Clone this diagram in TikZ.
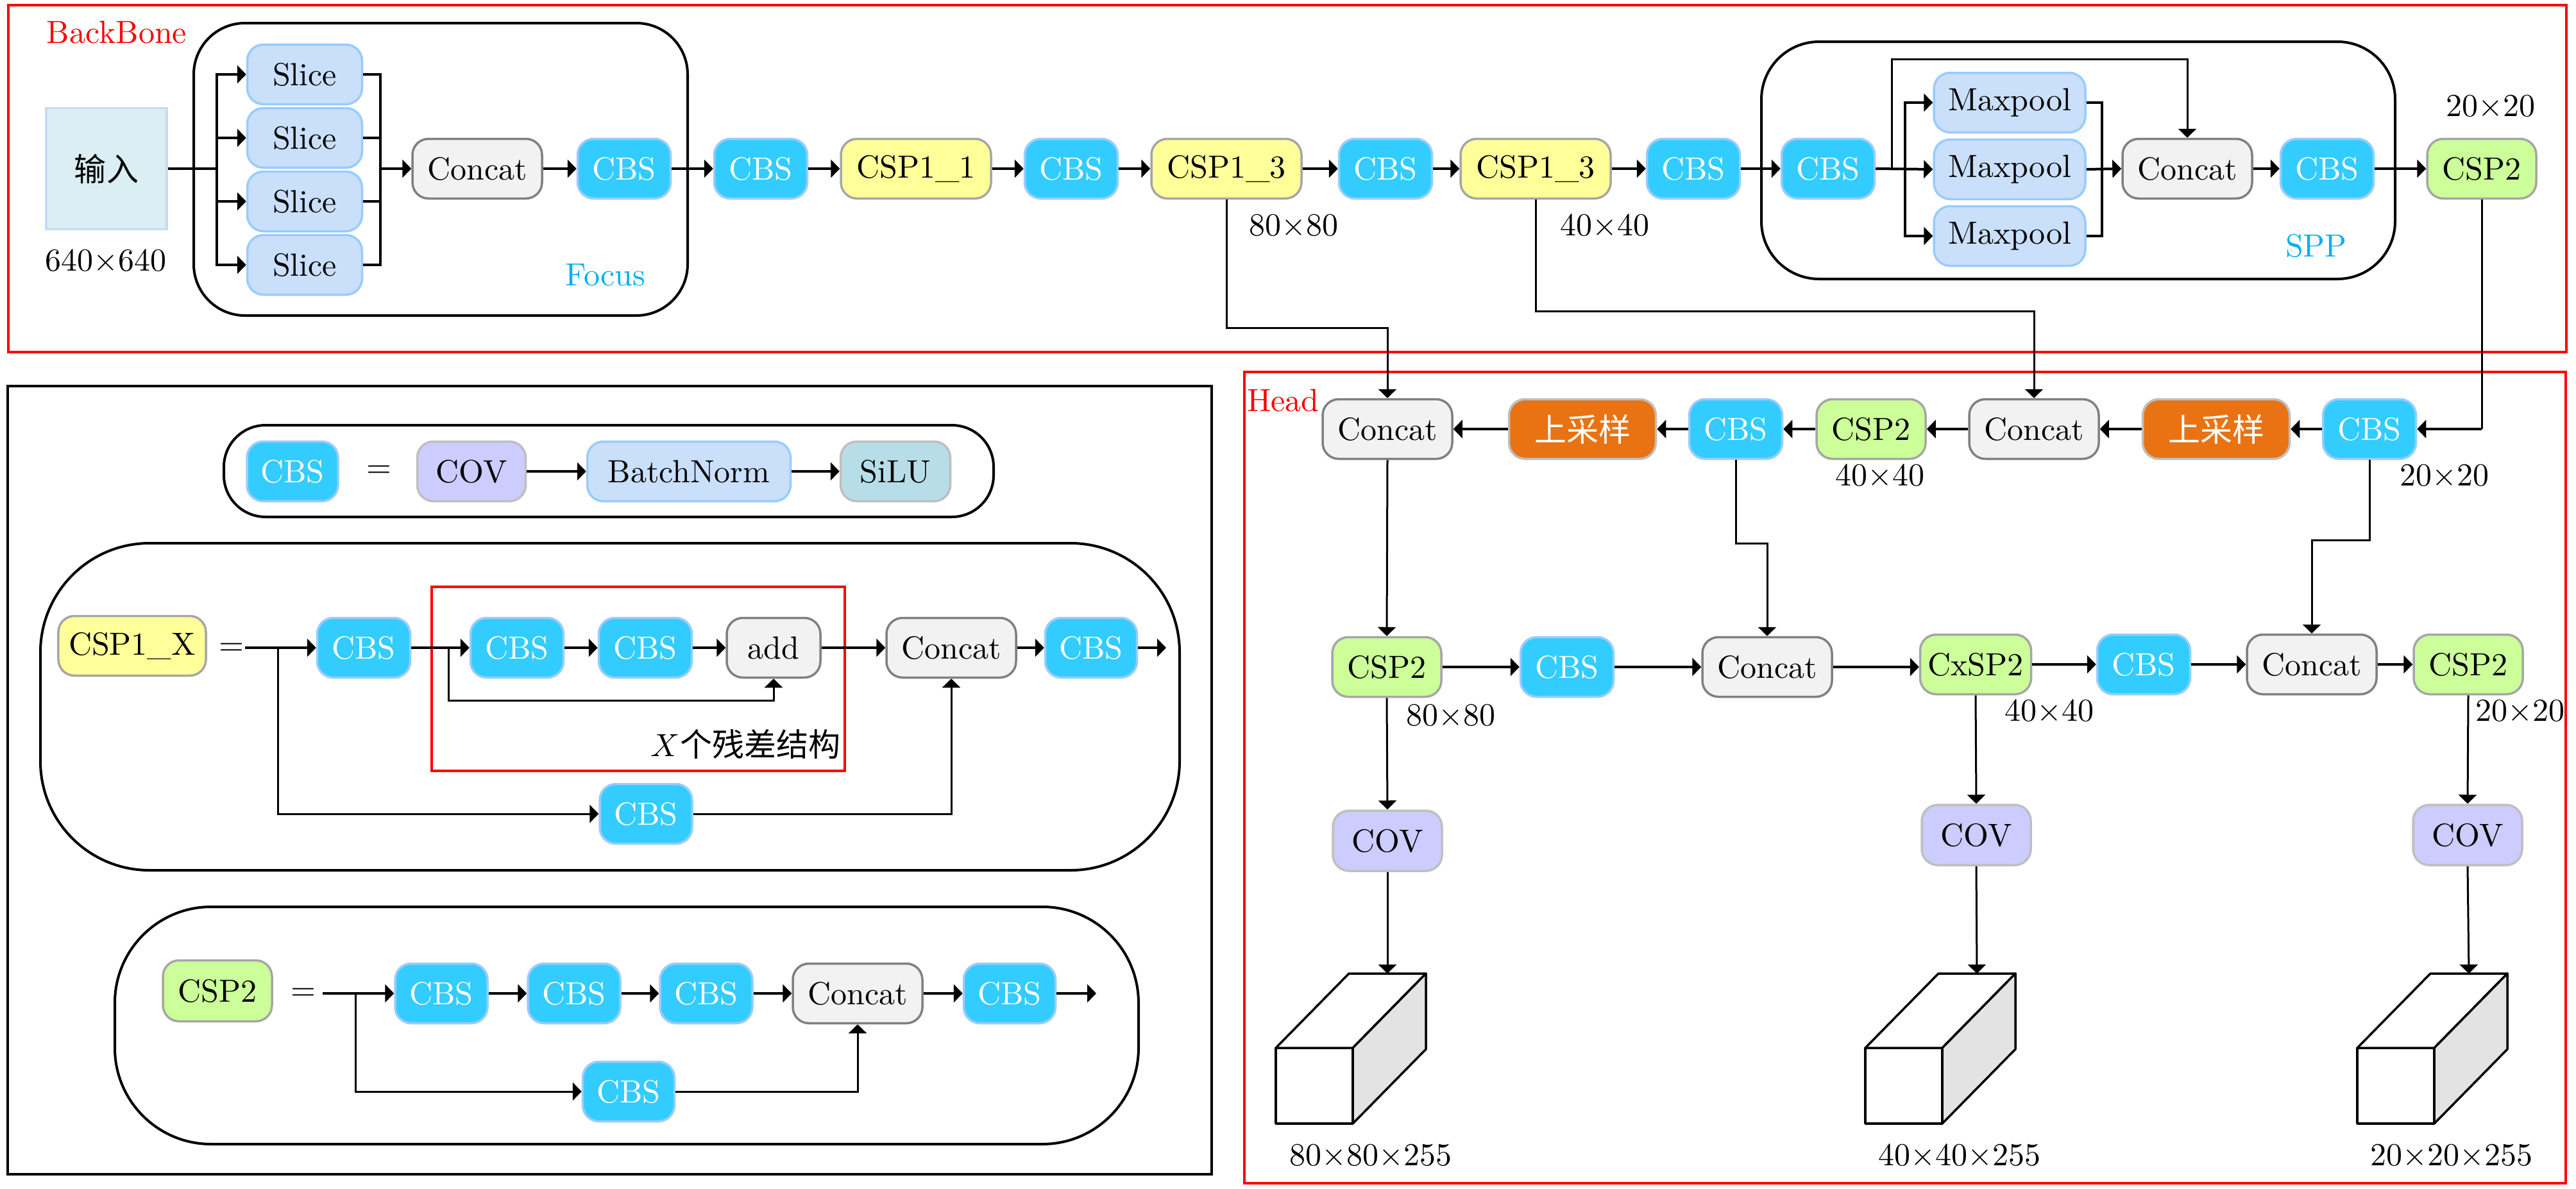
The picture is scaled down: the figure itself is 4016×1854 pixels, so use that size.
\documentclass[tikz,border=0pt]{standalone}
\usepackage{fontspec}
\newfontfamily\cjk{Noto Sans CJK SC}
\usetikzlibrary{arrows.meta,calc}
\definecolor{cbsfill}{HTML}{33CCFF}
\definecolor{cbsdraw}{HTML}{99CCFF}
\definecolor{slfill}{HTML}{C9DFFA}
\definecolor{sldraw}{HTML}{99CCFF}
\definecolor{catfill}{HTML}{F2F2F2}
\definecolor{catdraw}{HTML}{808080}
\definecolor{cspfill}{HTML}{FFFF99}
\definecolor{cspdraw}{HTML}{A6A6A6}
\definecolor{csptfill}{HTML}{CCFF99}
\definecolor{upfill}{HTML}{E97312}
\definecolor{updraw}{HTML}{BFBFBF}
\definecolor{covfill}{HTML}{CCCCFF}
\definecolor{covdraw}{HTML}{BFBFBF}
\definecolor{silufill}{HTML}{B7DEE8}
\definecolor{infill}{HTML}{DAEEF3}
\definecolor{indraw}{HTML}{C6DCF5}
\definecolor{focuscol}{HTML}{00B0F0}
\definecolor{cubeside}{HTML}{E3E3E3}
\begin{document}
\begin{tikzpicture}[x=0.2pt,y=-0.2pt,
  blk/.style={rounded corners=5pt, minimum height=18.6pt, line width=0.7pt, inner xsep=2pt, inner ysep=2pt},
  cbs/.style={blk, fill=cbsfill, draw=cbsdraw, text=white, minimum width=29pt},
  concat/.style={blk, fill=catfill, draw=catdraw, minimum width=40.4pt},
  slice/.style={blk, fill=slfill, draw=sldraw, minimum width=35.8pt},
  cspone/.style={blk, fill=cspfill, draw=cspdraw, minimum width=46.8pt},
  csptwo/.style={blk, fill=csptfill, draw=cspdraw, minimum width=34pt},
  maxp/.style={slice, minimum width=47.2pt},
  upsam/.style={blk, fill=upfill, draw=updraw, text=white, minimum width=45.8pt, font=\cjk},
  cov/.style={blk, fill=covfill, draw=covdraw, minimum width=34pt},
  bnorm/.style={slice, minimum width=63.4pt},
  silu/.style={blk, fill=silufill, draw=covdraw, minimum width=34.2pt},
  addn/.style={concat, minimum width=29.2pt},
  lbl/.style={inner sep=0pt},
  arr/.style={thick, -{Triangle[length=2.8pt,width=5.6pt]}},
  conn/.style={semithick, -{Triangle[length=2.8pt,width=5.6pt]}},
  ln/.style={thick},
  cube/.style={line width=0.7pt, line join=round},
  redframe/.style={red, thick},
  pill/.style={thick}
]
\useasboundingbox (0,0) rectangle (4016,1854);

% ---------------- frames ----------------
\draw[redframe] (13,8) rectangle (4001,549);
\draw[thick] (12,602) rectangle (1889,1831);
\draw[redframe] (1940,580) rectangle (4000,1845);
\node[lbl, text=red] (tbb) at (182,50) {BackBone};
\node[lbl, text=red, anchor=west] (thead) at (1943,624) {Head};

% ---------------- backbone ----------------
\draw[pill, rounded corners=16pt] (302,36) rectangle (1072,492);
\draw[pill, rounded corners=18pt] (2746,65) rectangle (3734,435);
\node[lbl, text=focuscol] (tfocus) at (944,429) {Focus};
\node[lbl, text=focuscol] (tspp) at (3611,383) {SPP};

\node[draw=indraw, fill=infill, line width=0.7pt, minimum width=37.6pt, minimum height=37.8pt, font=\cjk] (in) at (166,263) {输入};
\node[lbl] (t640) at (165,408) {640$\times$640};

\node[slice] (sl1) at (475,116) {Slice};
\node[slice] (sl2) at (475,215) {Slice};
\node[slice] (sl3) at (475,314) {Slice};
\node[slice] (sl4) at (475,413) {Slice};
\node[concat] (cat0) at (744,263) {Concat};
\node[cbs] (cbs0) at (973,263) {CBS};
\node[cbs] (cbs1) at (1186,263) {CBS};
\node[cspone] (csp11) at (1428,263) {CSP1\_1};
\node[cbs] (cbs2) at (1670,263) {CBS};
\node[cspone] (csp13a) at (1912,263) {CSP1\_3};
\node[cbs] (cbs3) at (2160,263) {CBS};
\node[cspone] (csp13b) at (2394,263) {CSP1\_3};
\node[cbs] (cbs4) at (2640,263) {CBS};
\node[cbs] (cbs5) at (2850,263) {CBS};
\node[maxp] (mp1) at (3133,160) {Maxpool};
\node[maxp] (mp2) at (3133,264) {Maxpool};
\node[maxp] (mp3) at (3133,368) {Maxpool};
\node[concat] (cat1) at (3410,263) {Concat};
\node[cbs] (cbs6) at (3628,263) {CBS};
\node[csptwo] (csp2a) at (3869,263) {CSP2};
\node[lbl] (t80a) at (2017,353) {80$\times$80};
\node[lbl] (t40a) at (2502,353) {40$\times$40};
\node[lbl] (t20a) at (3883,167) {20$\times$20};

\coordinate (fb) at (338,263);
\coordinate (fr) at (593,263);
\draw[ln] (in.east) -- (fb);
\foreach \s in {sl1,sl2,sl3,sl4} {\draw[arr] (fb) |- (\s.west);}
\draw[ln] (sl1.east) -| (fr |- sl4.east) -- (sl4.east);
\draw[ln] (sl2.east) -- (fr |- sl2.east);
\draw[ln] (sl3.east) -- (fr |- sl3.east);
\draw[arr] (fr) -- (cat0.west);
\draw[arr] (cat0) -- (cbs0);
\draw[arr] (cbs0) -- (cbs1);
\draw[arr] (cbs1) -- (csp11);
\draw[arr] (csp11) -- (cbs2);
\draw[arr] (cbs2) -- (csp13a);
\draw[arr] (csp13a) -- (cbs3);
\draw[arr] (cbs3) -- (csp13b);
\draw[arr] (csp13b) -- (cbs4);
\draw[arr] (cbs4) -- (cbs5);
\coordinate (sb) at (2970,263);
\coordinate (sr) at (3277,263);
\draw[arr] (cbs5.east) -- (mp2.west);
\draw[arr] (sb) |- (mp1.west);
\draw[arr] (sb) |- (mp3.west);
\draw[conn] (cbs5.east) -- ++(25,0) -- ++(0,-171) -| (cat1.north);
\draw[ln] (mp1.east) -| (sr |- mp3.east) -- (mp3.east);
\draw[arr] (mp2.east) -- (cat1.west);
\draw[arr] (cat1) -- (cbs6);
\draw[arr] (cbs6) -- (csp2a);

% ---------------- head ----------------
\node[concat] (hcat1) at (2163,669) {Concat};
\node[upsam] (hup1) at (2467,669) {上采样};
\node[cbs] (hcbs1) at (2706,669) {CBS};
\node[csptwo] (hcsp1) at (2917,669) {CSP2};
\node[concat] (hcat2) at (3171,669) {Concat};
\node[upsam] (hup2) at (3455,669) {上采样};
\node[cbs] (hcbs2) at (3694,669) {CBS};
\node[lbl] (t40b) at (2931,743) {40$\times$40};
\node[lbl] (t20b) at (3811,743) {20$\times$20};

\node[csptwo] (hcsp2) at (2162,1040) {CSP2};
\node[cbs] (hcbs3) at (2443,1040) {CBS};
\node[concat] (hcat3) at (2755,1040) {Concat};
\node[csptwo, minimum width=34.6pt] (hcx) at (3080,1036) {CxSP2};
\node[cbs] (hcbs4) at (3342,1036) {CBS};
\node[concat] (hcat4) at (3604,1036) {Concat};
\node[csptwo] (hcsp3) at (3848,1036) {CSP2};
\node[lbl] (t80c) at (2262,1117) {80$\times$80};
\node[lbl] (t40c) at (3195,1110) {40$\times$40};
\node[lbl] (t20c) at (3929,1110) {20$\times$20};

\node[cov, minimum height=18.8pt] (hcov1) at (2163,1311) {COV};
\node[cov, minimum height=18.8pt] (hcov2) at (3081,1302) {COV};
\node[cov, minimum height=18.8pt] (hcov3) at (3847,1302) {COV};

\foreach \x/\n in {1989/1,2908/2,3675/3} {
  \draw[cube, fill=white] (\x,1634) rectangle ++(120,118);
  \draw[cube, fill=white] (\x,1634) -- ++(114,-116) -- ++(120,0) -- ++(-114,116) -- cycle;
  \draw[cube, fill=cubeside] (\x+120,1634) -- ++(114,-116) -- ++(0,118) -- ++(-114,116) -- cycle;
  \coordinate (cub\n) at (\x+174,1518);
}
\node[lbl] (t80d) at (2137,1803) {80$\times$80$\times$255};
\node[lbl] (t40d) at (3055,1803) {40$\times$40$\times$255};
\node[lbl] (t20d) at (3822,1803) {20$\times$20$\times$255};

% backbone -> head
\draw[conn] (csp13a.south) -- ++(0,200) -| (hcat1.north);
\draw[conn] (csp13b.south) -- ++(0,174) -| (hcat2.north);
\draw[semithick] (csp2a.south) -- (csp2a.south |- hcbs2.east);
\draw[arr] (csp2a.south |- hcbs2.east) -- (hcbs2.east);

\draw[arr] (hcbs2) -- (hup2);
\draw[arr] (hup2) -- (hcat2);
\draw[arr] (hcat2) -- (hcsp1);
\draw[arr] (hcsp1) -- (hcbs1);
\draw[arr] (hcbs1) -- (hup1);
\draw[arr] (hup1) -- (hcat1);

\draw[conn] (hcat1.south) -- (hcsp2.north);
\draw[conn] (hcbs1.south) -- ++(0,130) -| (hcat3.north);
\draw[conn] (hcbs2.south) -- ++(0,125) -| (hcat4.north);

\draw[arr] (hcsp2) -- (hcbs3);
\draw[arr] (hcbs3) -- (hcat3);
\draw[arr] (hcat3.east) -- (hcat3.east -| hcx.west);
\draw[arr] (hcx) -- (hcbs4);
\draw[arr] (hcbs4) -- (hcat4);
\draw[arr] (hcat4) -- (hcsp3);

\draw[conn] (hcsp2.south) -- (hcov1.north);
\draw[conn] (hcx.south) -- (hcov2.north);
\draw[conn] (hcsp3.south) -- (hcov3.north);
\draw[conn] (hcov1.south) -- (cub1);
\draw[conn] (hcov2.south) -- (cub2);
\draw[conn] (hcov3.south) -- (cub3);

% ---------------- CBS definition ----------------
\draw[pill, rounded corners=13pt] (349,663) rectangle (1549,806);
\node[cbs, minimum width=28.4pt] (dcbs) at (456,735) {CBS};
\node[lbl] (deq1) at (591,735) {=};
\node[cov, minimum width=33.8pt] (dcov) at (735,735) {COV};
\node[bnorm] (dbn) at (1074,735) {BatchNorm};
\node[silu] (dsilu) at (1396,735) {SiLU};
\draw[arr] (dcov) -- (dbn);
\draw[arr] (dbn) -- (dsilu);

% ---------------- CSP1_X definition ----------------
\draw[pill, rounded corners=34pt] (63,847) rectangle (1839,1357);
\draw[redframe] (673,915) rectangle (1317,1202);
\node[cspone, minimum width=46pt] (dcsp1) at (206,1007) {CSP1\_X};
\node[lbl] (deq2) at (361,1012) {=};
\node[cbs] (x1) at (567,1010) {CBS};
\node[cbs] (x2) at (806,1010) {CBS};
\node[cbs] (x3) at (1006,1010) {CBS};
\node[addn] (xadd) at (1206,1010) {add};
\node[concat] (xcat) at (1483,1010) {Concat};
\node[cbs, minimum width=28.6pt] (x4) at (1701,1010) {CBS};
\node[cbs, minimum width=28.8pt] (x5) at (1007,1269) {CBS};
\node[lbl, anchor=east] (tres) at (1311,1160) {$X$\cjk 个残差结构};
\coordinate (s1) at (382,1010);
\coordinate (b1) at (433,1010);
\coordinate (b2) at (699,1010);
\coordinate (o1) at (1818,1010);
\draw[arr] (s1) -- (x1.west);
\draw[conn] (b1) |- (x5.west);
\draw[arr] (x1) -- (x2);
\draw[conn] (b2) -- ++(0,82) -| (xadd.south);
\draw[arr] (x2) -- (x3);
\draw[arr] (x3) -- (xadd);
\draw[arr] (xadd) -- (xcat);
\draw[arr] (xcat) -- (x4);
\draw[arr] (x4.east) -- (o1);
\draw[conn] (x5.east) -| (xcat.south);

% ---------------- CSP2 definition ----------------
\draw[pill, rounded corners=30pt] (179,1414) rectangle (1775,1784);
\node[csptwo, minimum height=19pt] (dcsp2) at (339,1545) {CSP2};
\node[lbl] (deq3) at (473,1550) {=};
\node[cbs, minimum width=28.8pt] (y1) at (688,1549) {CBS};
\node[cbs, minimum width=28.8pt] (y2) at (895,1549) {CBS};
\node[cbs, minimum width=28.8pt] (y3) at (1101,1549) {CBS};
\node[concat] (ycat) at (1337,1549) {Concat};
\node[cbs, minimum width=28.6pt] (y4) at (1574,1549) {CBS};
\node[cbs, minimum width=28.6pt] (y5) at (980,1702) {CBS};
\coordinate (s2) at (503,1549);
\coordinate (b3) at (554,1549);
\coordinate (o2) at (1709,1549);
\draw[arr] (s2) -- (y1.west);
\draw[conn] (b3) |- (y5.west);
\draw[arr] (y1) -- (y2);
\draw[arr] (y2) -- (y3);
\draw[arr] (y3) -- (ycat);
\draw[arr] (ycat) -- (y4);
\draw[arr] (y4.east) -- (o2);
\draw[conn] (y5.east) -| (ycat.south);
\end{tikzpicture}
\end{document}
